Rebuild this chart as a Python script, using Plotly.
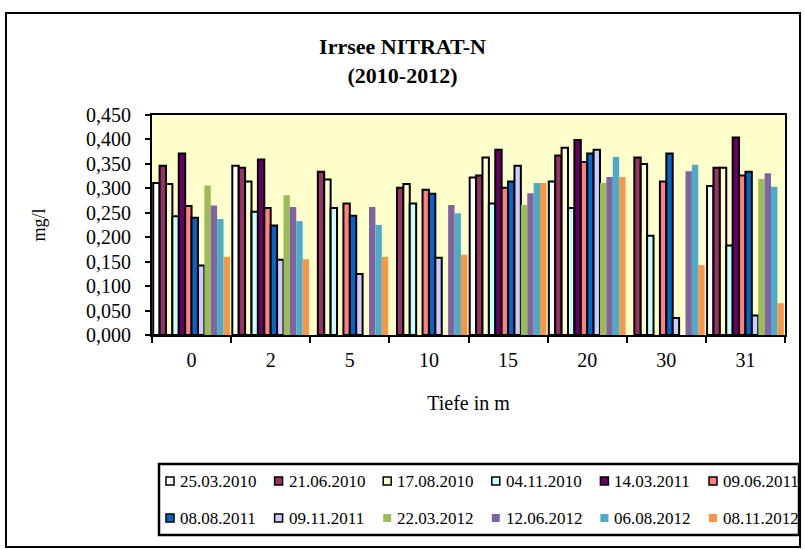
import plotly.graph_objects as go

categories = ["0", "2", "5", "10", "15", "20", "30", "31"]

series_names = ["25.03.2010", "21.06.2010", "17.08.2010", "04.11.2010",
                "14.03.2011", "09.06.2011", "08.08.2011", "09.11.2011",
                "22.03.2012", "12.06.2012", "06.08.2012", "08.11.2012"]

d_25_03_2010 = [0.311, 0.346, None, None, 0.322, 0.314, None, 0.305]
d_21_06_2010 = [0.346, 0.342, 0.334, 0.301, 0.326, 0.367, 0.363, 0.342]
d_17_08_2010 = [0.309, 0.314, 0.318, 0.309, 0.363, 0.383, 0.350, 0.342]
d_04_11_2010 = [0.243, 0.252, 0.260, 0.269, 0.269, 0.260, 0.203, 0.183]
d_14_03_2011 = [0.371, 0.359, None, None, 0.379, 0.399, None, 0.404]
d_09_06_2011 = [0.264, 0.260, 0.269, 0.297, 0.301, 0.354, 0.314, 0.326]
d_08_08_2011 = [0.240, 0.224, 0.244, 0.289, 0.314, 0.371, 0.371, 0.334]
d_09_11_2011 = [0.142, 0.154, 0.125, 0.158, 0.346, 0.379, 0.035, 0.040]
d_22_03_2012 = [0.306, 0.286, None, None, 0.266, 0.311, None, 0.319]
d_12_06_2012 = [0.265, 0.262, 0.262, 0.266, 0.290, 0.323, 0.335, 0.331]
d_06_08_2012 = [0.237, 0.233, 0.225, 0.249, 0.311, 0.364, 0.348, 0.303]
d_08_11_2012 = [0.160, 0.155, 0.160, 0.164, 0.311, 0.323, 0.143, 0.065]

all_values = [d_25_03_2010, d_21_06_2010, d_17_08_2010, d_04_11_2010,
              d_14_03_2011, d_09_06_2011, d_08_08_2011, d_09_11_2011,
              d_22_03_2012, d_12_06_2012, d_06_08_2012, d_08_11_2012]

colors = ["#FFFFFF", "#993366", "#FFFFCC", "#CCFFFF", "#660066", "#FF8080",
          "#0066CC", "#CCCCFF", "#9BBB59", "#8064A2", "#4BACC6", "#F79646"]
bordered = [True] * 8 + [False] * 4

FONT = "Liberation Serif, Times New Roman, serif"
W, H = 805, 549
L, R, T, B = 152, 785, 115, 335  # plot area in pixels


def px_x(p):
    return (p - L) / (R - L)


def px_y(p):
    return (B - p) / (B - T)


fig = go.Figure()
for i, (name, vals) in enumerate(zip(series_names, all_values)):
    fig.add_trace(go.Bar(
        x=categories, y=vals, name=name, showlegend=False,
        marker=dict(color=colors[i],
                    line=dict(color="black", width=2 if bordered[i] else 0)),
    ))

# legend (drawn as shapes + text, two rows of six entries)
shapes = []
annotations = []
row_y = [481, 518]
col_x0 = 166
col_step = 108.6
for i, name in enumerate(series_names):
    r, c = divmod(i, 6)
    sx = col_x0 + c * col_step
    sy = row_y[r]
    shapes.append(dict(
        type="rect", xref="paper", yref="paper",
        x0=px_x(sx), x1=px_x(sx + 8), y0=px_y(sy - 4), y1=px_y(sy + 4),
        fillcolor=colors[i],
        line=dict(color="black", width=1.5 if bordered[i] else 0),
    ))
    annotations.append(dict(
        text=name, xref="paper", yref="paper", x=px_x(sx + 12), y=px_y(sy),
        xanchor="left", yanchor="middle", showarrow=False,
        font=dict(family=FONT, size=17, color="black"),
    ))

shapes += [
    # legend box
    dict(type="rect", xref="paper", yref="paper",
         x0=px_x(159), x1=px_x(799), y0=px_y(464), y1=px_y(535),
         line=dict(color="black", width=2.5), fillcolor="rgba(0,0,0,0)", layer="above"),
    # chart area border
    dict(type="rect", xref="paper", yref="paper",
         x0=px_x(6), x1=px_x(800), y0=px_y(13), y1=px_y(547),
         line=dict(color="black", width=2), fillcolor="rgba(0,0,0,0)", layer="above"),
]

fig.update_layout(
    width=W, height=H,
    margin=dict(l=L, r=W - R, t=T, b=H - B, autoexpand=False),
    paper_bgcolor="white", plot_bgcolor="#FFFFCC",
    barmode="group", bargap=0.03, bargroupgap=0,
    separators=",.",
    showlegend=False,
    font=dict(family=FONT, color="black"),
    title=dict(text="<b>Irrsee NITRAT-N<br>(2010-2012)</b>",
               font=dict(family=FONT, size=22, color="black"),
               x=0.5, xref="container", xanchor="center",
               y=1 - 54 / H, yref="container", yanchor="middle"),
    xaxis=dict(type="category", showline=True, linecolor="black", linewidth=2,
               mirror=True, ticks="outside", tickson="boundaries", ticklen=6,
               tickwidth=2, tickcolor="black",
               tickfont=dict(family=FONT, size=20, color="black"),
               ticklabelstandoff=6,
               title=dict(text="Tiefe in m", font=dict(family=FONT, size=20, color="black"),
                          standoff=26),
               showgrid=False),
    yaxis=dict(range=[0, 0.45], dtick=0.05, tickformat=".3f",
               showline=True, linecolor="black", linewidth=2, mirror=True,
               ticks="outside", ticklen=5, tickwidth=2, tickcolor="black",
               tickfont=dict(family=FONT, size=20, color="black"),
               ticklabelstandoff=10,
               title=dict(text="mg/l", font=dict(family=FONT, size=18, color="black"),
                          standoff=36),
               showgrid=False, zeroline=False),
    shapes=shapes,
    annotations=annotations,
)

fig.write_html("out.html", config={"displayModeBar": False},
               post_script="document.body.style.margin='0px';")
